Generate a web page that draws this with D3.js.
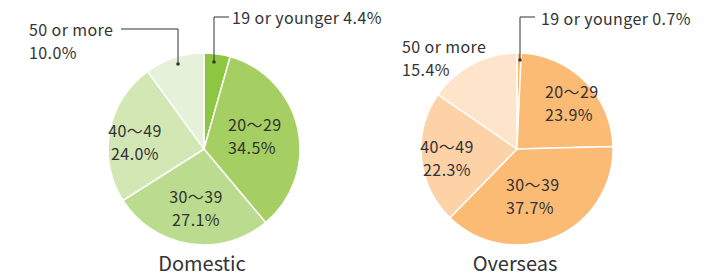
<!DOCTYPE html>
<html lang="en">
  <head>
    <meta charset="UTF-8" />
    <title>Age distribution</title>
    <style>
      body { margin: 0; background: #fff; }
      text { font-family: "Noto Sans CJK JP", "Noto Sans", sans-serif; fill: #333; }
      .lbl { font-size: 16px; letter-spacing: 0.4px; }
    </style>
  </head>
  <body>
    <svg width="718" height="280"></svg>

    <script src="https://d3js.org/d3.v7.min.js"></script>
    <script>
      const ageGroups = ["19 or younger", "20〜29", "30〜39", "40〜49", "50 or more"];
      const domesticValues = [4.4, 34.5, 27.1, 24.0, 10.0];
      const overseasValues = [0.7, 23.9, 37.7, 22.3, 15.4];
      const domesticColors = ["#8dc641", "#a5cf63", "#bbdc8f", "#d3e7b5", "#e6f1d9"];
      const overseasColors = ["#fab56c", "#fbbb74", "#fbbb74", "#fdd2a7", "#fee4ca"];
      const chartTitles = ["Domestic", "Overseas"];

      const svg = d3.select("svg");
      const radius = 96;

      // label layout per pie: inside labels [x, y] for slices 1..3, callouts for 0 and 4
      const charts = [
        {
          title: chartTitles[0], values: domesticValues, colors: domesticColors, cx: 204, cy: 149,
          inside: { 1: [228, 125, "start"], 2: [196, 197, "middle"], 3: [135, 131, "middle"] },
          callSmall: { dot: [214, 62], corner: [214, 17], end: [229, 17], text: [232, 18] },
          callLarge: { dot: [178, 64], corner: [178, 29], end: [121, 29], text: [29, 30], text2: [29, 53] }
        },
        {
          title: chartTitles[1], values: overseasValues, colors: overseasColors, cx: 517, cy: 149,
          inside: { 1: [545, 92, "start"], 2: [506, 185, "start"], 3: [447, 147, "middle"] },
          callSmall: { dot: [520, 60], corner: [520, 17], end: [535, 17], text: [541, 19] },
          callLarge: { text: [402, 47], text2: [402, 70] }
        }
      ];

      const pie = d3.pie().sort(null).value(d => d);
      const arc = d3.arc().innerRadius(0).outerRadius(radius);

      charts.forEach(c => {
        const g = svg.append("g").attr("transform", `translate(${c.cx},${c.cy})`);
        const arcs = pie(c.values);

        g.selectAll("path")
          .data(arcs)
          .join("path")
          .attr("d", arc)
          .attr("fill", (d, i) => c.colors[i])
          .attr("stroke", "#fff")
          .attr("stroke-width", 1.5);

        // inside labels
        Object.keys(c.inside).forEach(k => {
          const i = +k;
          const [x, y, anchor] = c.inside[k];
          const t = svg.append("text").attr("class", "lbl").attr("text-anchor", anchor);
          t.append("tspan").attr("x", x).attr("y", y).attr("dy", "0.35em").text(ageGroups[i]);
          t.append("tspan").attr("x", x).attr("y", y + 23).attr("dy", "0.35em").text(c.values[i].toFixed(1) + "%");
        });

        // callout for the smallest group
        const s = c.callSmall;
        svg.append("polyline")
          .attr("points", [s.dot, s.corner, s.end].map(p => p.join(",")).join(" "))
          .attr("fill", "none").attr("stroke", "#333").attr("stroke-width", 1);
        svg.append("circle").attr("cx", s.dot[0]).attr("cy", s.dot[1]).attr("r", 1.8).attr("fill", "#333");
        svg.append("text").attr("class", "lbl")
          .attr("x", s.text[0]).attr("y", s.text[1]).attr("dy", "0.35em")
          .text(ageGroups[0] + " " + c.values[0].toFixed(1) + "%");

        // callout for the oldest group
        const l = c.callLarge;
        if (l.dot) {
          svg.append("polyline")
            .attr("points", [l.dot, l.corner, l.end].map(p => p.join(",")).join(" "))
            .attr("fill", "none").attr("stroke", "#333").attr("stroke-width", 1);
          svg.append("circle").attr("cx", l.dot[0]).attr("cy", l.dot[1]).attr("r", 1.8).attr("fill", "#333");
        }
        svg.append("text").attr("class", "lbl")
          .attr("x", l.text[0]).attr("y", l.text[1]).attr("dy", "0.35em")
          .text(ageGroups[4]);
        svg.append("text").attr("class", "lbl")
          .attr("x", l.text2[0]).attr("y", l.text2[1]).attr("dy", "0.35em")
          .text(c.values[4].toFixed(1) + "%");

        svg.append("text")
          .attr("x", c.cx - 2).attr("y", 264).attr("dy", "0.35em")
          .attr("text-anchor", "middle")
          .attr("font-size", 20)
          .text(c.title);
      });
    </script>
  </body>
</html>
